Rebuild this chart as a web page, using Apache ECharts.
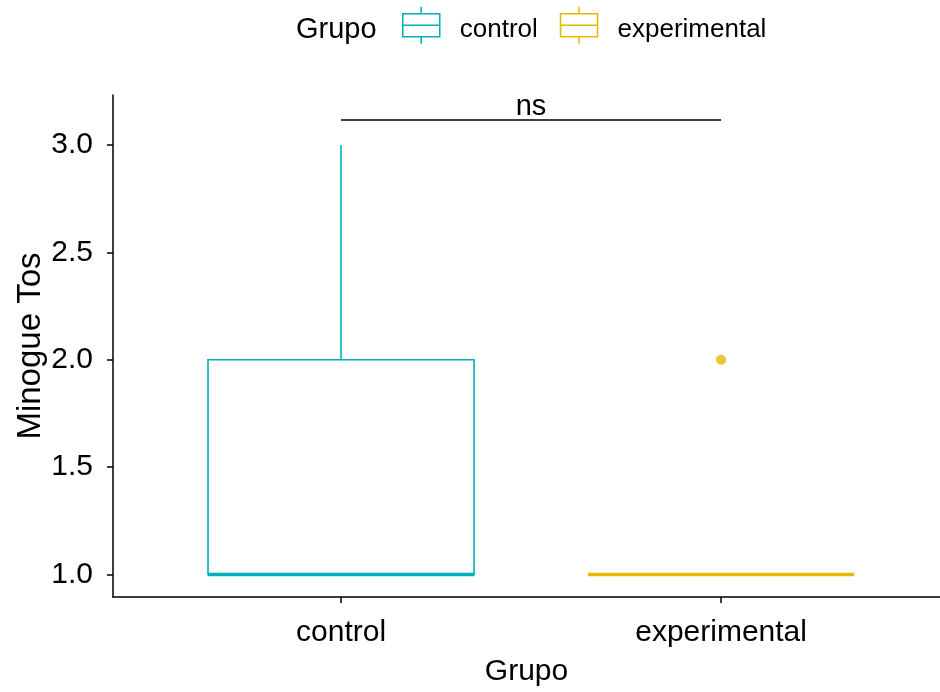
<!DOCTYPE html>
<html>
<head>
<meta charset="utf-8">
<script src="https://cdn.jsdelivr.net/npm/echarts@6/dist/echarts.min.js"></script>
<style>html,body{margin:0;padding:0;background:#fff}#chart{width:940px;height:692px}</style>
</head>
<body>
<div id="chart"></div>
<script>
// ---- data ----
const categories = ['control', 'experimental'];
const categoryPos = [1, 2];
const groupColors = ['#00AFBB', '#E7B800'];
const whiskerLow = [1, 1];
const quartile1 = [1, 1];
const medians = [1, 1];
const quartile3 = [2, 1];
const whiskerHigh = [3, 1];
const outlierGroup = [2];
const outlierValue = [2];
const yTicks = [1.0, 1.5, 2.0, 2.5, 3.0];
const bracketFrom = 1, bracketTo = 2, bracketY = 3.116, bracketLabel = 'ns';

const FONT = 'Liberation Sans, Arial, sans-serif';
const BOX_W = 0.7;

function boxRender(color) {
  return function (params, api) {
    const x = api.value(0);
    const lo = api.coord([x, api.value(1)]);
    const q1 = api.coord([x, api.value(2)]);
    const med = api.coord([x, api.value(3)]);
    const q3 = api.coord([x, api.value(4)]);
    const hi = api.coord([x, api.value(5)]);
    const w = api.size([BOX_W, 0])[0];
    const lw = 1.6;
    return {
      type: 'group',
      children: [
        { type: 'line', shape: { x1: hi[0], y1: hi[1], x2: q3[0], y2: q3[1] }, style: { stroke: color, lineWidth: lw } },
        { type: 'line', shape: { x1: q1[0], y1: q1[1], x2: lo[0], y2: lo[1] }, style: { stroke: color, lineWidth: lw } },
        { type: 'rect', shape: { x: q3[0] - w / 2, y: q3[1], width: w, height: q1[1] - q3[1] }, style: { stroke: color, fill: 'none', lineWidth: lw } },
        { type: 'line', shape: { x1: med[0] - w / 2, y1: med[1], x2: med[0] + w / 2, y2: med[1] }, style: { stroke: color, lineWidth: 3.4 } }
      ]
    };
  };
}

const legendIcon = 'path://M0,7H37V30H0ZM0,18.5H37M18.5,0V7M18.5,30V37';

const series = categories.map((c, i) => ({
  name: c,
  type: 'custom',
  renderItem: boxRender(groupColors[i]),
  itemStyle: { color: groupColors[i] },
  encode: { x: 0, y: [1, 2, 3, 4, 5] },
  data: [[categoryPos[i], whiskerLow[i], quartile1[i], medians[i], quartile3[i], whiskerHigh[i]]],
  z: 2
}));

series.push({
  name: 'experimental',
  type: 'scatter',
  symbolSize: 10,
  itemStyle: { color: groupColors[1] },
  data: outlierGroup.map((g, i) => [g, outlierValue[i]]),
  z: 3
});

series.push({
  name: 'bracket',
  type: 'custom',
  renderItem: function (params, api) {
    const a = api.coord([api.value(0), api.value(2)]);
    const b = api.coord([api.value(1), api.value(2)]);
    return {
      type: 'group',
      children: [
        { type: 'line', shape: { x1: a[0], y1: a[1], x2: b[0], y2: b[1] }, style: { stroke: '#000', lineWidth: 1.5 } },
        { type: 'text', style: { x: (a[0] + b[0]) / 2, y: a[1] + 1, text: bracketLabel, font: '29px ' + FONT, fill: '#000', align: 'center', verticalAlign: 'bottom' } }
      ]
    };
  },
  data: [[bracketFrom, bracketTo, bracketY]],
  encode: { x: [0, 1], y: 2 },
  z: 4
});

const chart = echarts.init(document.getElementById('chart'));
chart.setOption({
  animation: false,
  backgroundColor: '#fff',
  title: {
    text: 'Grupo', left: 296, top: 15, padding: 0,
    textStyle: { fontFamily: FONT, fontSize: 29, fontWeight: 'normal', color: '#000' }
  },
  legend: {
    left: 397, top: 1, itemWidth: 37, itemHeight: 37, itemGap: 22,
    formatter: name => '{s| }\n{t|' + name + '}',
    textStyle: {
      fontFamily: FONT, fontSize: 26, color: '#000', padding: [0, 0, 0, 15],
      rich: {
        s: { fontSize: 6, lineHeight: 10 },
        t: { fontFamily: FONT, fontSize: 26, lineHeight: 26, color: '#000' }
      }
    },
    data: categories.map((c, i) => ({
      name: c, icon: legendIcon,
      itemStyle: { color: 'rgba(0,0,0,0)', borderColor: groupColors[i], borderWidth: 1.5 }
    }))
  },
  grid: { left: 113, right: 0, top: 95, bottom: 94.5, containLabel: false },
  xAxis: {
    type: 'value', min: 0.4, max: 2.576,
    name: 'Grupo', nameLocation: 'middle', nameGap: 60, nameMoveOverlap: false,
    nameTextStyle: { fontFamily: FONT, fontSize: 30, color: '#000' },
    splitLine: { show: false },
    axisLine: { show: true, onZero: false, lineStyle: { color: '#000', width: 1.5 } },
    axisTick: { show: true, length: 6, lineStyle: { color: '#000', width: 1.5 }, customValues: categoryPos },
    axisLabel: {
      margin: 21, fontFamily: FONT, fontSize: 30, color: '#000', customValues: categoryPos,
      formatter: v => categories[categoryPos.indexOf(Math.round(v))] || ''
    }
  },
  yAxis: {
    type: 'value', min: 0.8953, max: 3.2326,
    name: 'Minogue Tos', nameLocation: 'middle', nameGap: 66, nameMoveOverlap: false,
    nameTextStyle: { fontFamily: FONT, fontSize: 33, color: '#000' },
    splitLine: { show: false },
    axisLine: { show: true, onZero: false, lineStyle: { color: '#000', width: 1.5 } },
    axisTick: { show: true, length: 6, lineStyle: { color: '#000', width: 1.5 }, customValues: yTicks },
    axisLabel: {
      margin: 20, fontFamily: FONT, fontSize: 30, color: '#000', customValues: yTicks,
      formatter: v => v.toFixed(1)
    }
  },
  series: series
});
</script>
</body>
</html>
